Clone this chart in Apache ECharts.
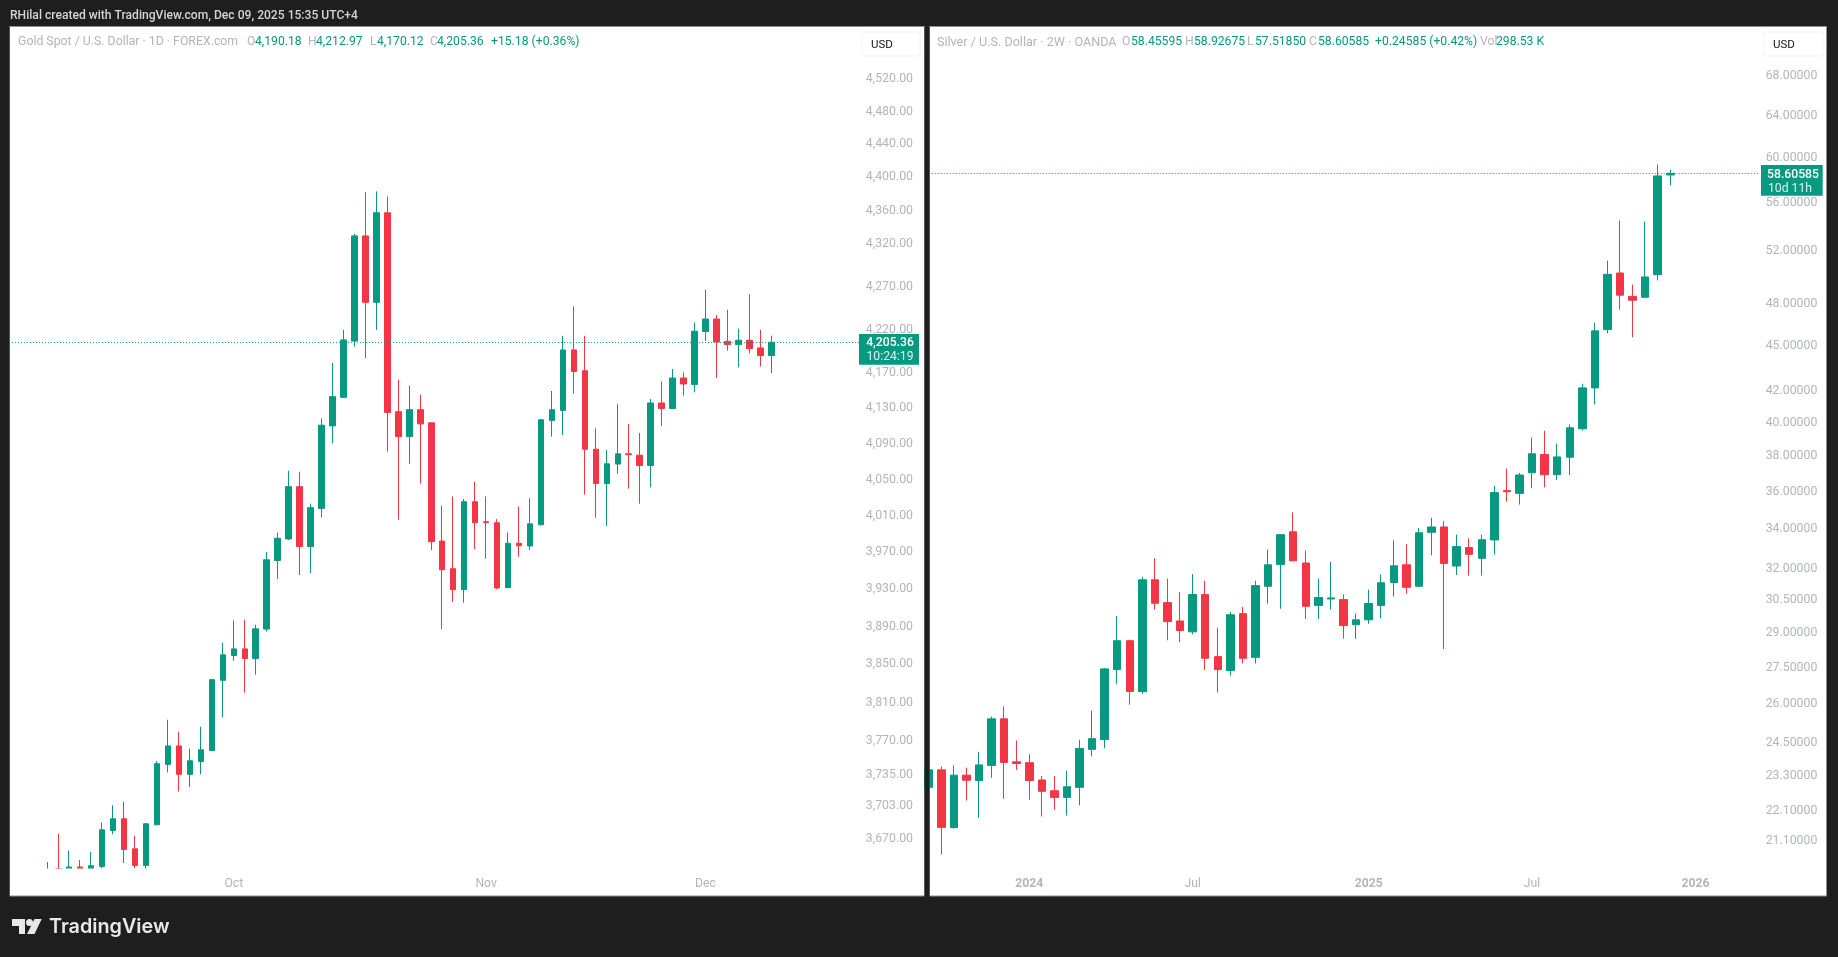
<!DOCTYPE html>
<html>
<head>
<meta charset="utf-8">
<title>Gold and Silver</title>
<style>
  html, body { margin: 0; padding: 0; background: #1e1e1e; }
  #main { width: 1838px; height: 957px; }
</style>
</head>
<body>
<div id="main"></div>
<script src="https://cdn.jsdelivr.net/npm/echarts@6/dist/echarts.min.js"></script>
<script>
// gold, daily bars (the first few run off the bottom of the pane)
var goldOpen = [3636,3640.5,3640,3642,3640,3642.6,3678.6,3690.5,3660.2,3643.6,3684.4,3745.9,3764.9,3735.7,3748.9,3760.1,3833.2,3859.4,3866.4,3856.2,3887.4,3961.2,3984.7,4042.2,3976.3,4018.2,4110.1,4142.4,4206.8,4329.8,4251.7,4357.4,4126.1,4098,4128.4,4113.6,3982.4,3952.3,3929.7,4025.6,4003.6,4002.4,3931.8,3979.9,3977,4000.2,4116.2,4127.6,4196.6,4172.7,4083.9,4045.8,4067.3,4078.8,4077.2,4065.7,4136,4129.8,4164.4,4157.1,4217.8,4232.3,4206.5,4202.7,4207.7,4198.9,4190.18];
var goldHigh = [3647,3675.3,3658.5,3649,3657,3686.5,3704.1,3707.9,3673.2,3686,3749.3,3792,3779.5,3762.2,3784.7,3834.7,3873,3896.6,3897.4,3892,3970.6,3991.6,4059.9,4058.8,4023.4,4118.5,4181.5,4219.8,4332.2,4382.2,4383,4376.9,4162.5,4155.7,4145.4,4114,4021.2,4031.4,4028.6,4047.7,4031.4,4006.4,3991.6,4020.4,4029.3,4117.8,4149.6,4212.8,4247,4212.8,4107.3,4083.1,4134.7,4112.4,4102,4140.5,4160.6,4174.7,4170.8,4228.3,4266.5,4236.9,4243,4221.2,4261,4219.8,4212.97];
var goldLow = [3635,3635,3636,3636,3636,3641,3674.9,3646,3640.6,3640,3684,3737.7,3718.1,3722.8,3735.7,3759.8,3794.5,3853.8,3820.3,3839.2,3884.8,3941.2,3983.6,3945.5,3947.6,4008.3,4090.5,4142,4200.4,4187.2,4219.8,4081.2,4005.7,4067.6,4045.6,3972.3,3887.4,3916.4,3915.7,3973.5,3963.1,3930,3931.5,3965.2,3972.7,3999.5,4098,4099.9,4146.6,4033.4,4007.9,3999,4056.5,4040,4023.4,4041.4,4110.1,4129.4,4144.3,4148,4206.8,4164.4,4195.8,4176.5,4192.9,4177.6,4170.12];
var goldClose = [3638,3636,3642,3640,3643.3,3679.3,3690.5,3659.5,3643.6,3685.4,3746.6,3764.9,3735.7,3749.6,3760.9,3833.9,3860.1,3866.4,3856.2,3887.7,3962,3985.4,4042.2,3976.3,4019,4110.9,4143.2,4208.1,4329.8,4251.7,4357.4,4125.3,4098,4128.4,4112.4,3981.7,3951.2,3929.7,4025.6,4002.4,4002.6,3931.5,3979.9,3977.3,4001.2,4117,4128.4,4196.6,4171.9,4083.9,4045.8,4067.6,4078.7,4077.8,4065.7,4136,4129.8,4164.4,4157.6,4218.2,4232.3,4205.7,4202.7,4207.7,4198.1,4190.2,4205.36];

// silver, two-week bars
var silverOpen = [22.90,23.52,21.53,23.33,23.14,23.68,25.43,23.81,23.78,23.16,22.78,22.55,22.90,24.27,24.64,27.42,28.66,26.51,31.46,30.38,29.54,29.05,30.76,27.97,27.38,29.87,27.94,31.15,32.21,33.86,32.28,30.25,30.55,30.52,29.37,29.59,30.25,31.33,32.19,31.15,33.83,34.11,32.13,33.05,32.51,33.44,36.06,35.91,37.06,38.11,36.95,37.95,39.64,42.20,46.14,50.31,48.54,48.48,50.18,58.45595];
var silverHigh = [23.59,23.64,23.68,23.60,24.18,25.52,25.92,24.60,24.09,23.30,23.30,23.49,24.63,25.75,27.48,29.77,28.70,31.61,32.51,31.51,30.88,31.74,31.41,29.23,29.95,30.18,31.41,32.95,33.74,34.88,32.90,31.52,32.34,30.76,29.88,30.99,31.71,33.42,33.22,34.05,34.59,34.42,33.71,33.52,33.71,36.33,37.30,37.05,39.12,39.52,38.75,39.91,42.47,46.62,51.27,54.51,49.42,54.43,59.41,58.92675];
var silverLow = [22.82,20.66,21.50,22.44,21.86,23.24,22.50,23.52,22.47,21.90,22.13,21.93,22.28,24.01,24.31,26.83,25.99,26.42,30.06,28.68,28.59,28.94,27.41,26.48,27.17,27.68,27.68,30.33,30.10,32.36,29.63,29.63,30.06,28.75,28.74,29.41,29.66,30.66,30.80,31.13,32.66,28.30,31.69,31.66,31.66,32.70,35.46,35.30,36.19,36.24,36.66,36.93,39.54,41.14,45.87,47.57,45.60,48.46,49.74,57.5185];
var silverClose = [23.52,21.54,23.33,23.15,23.70,25.43,23.79,23.75,23.14,22.76,22.55,22.92,24.30,24.67,27.45,28.66,26.52,31.46,30.35,29.51,29.11,30.76,27.90,27.42,29.82,27.90,31.18,32.19,33.71,32.39,30.21,30.62,30.60,29.33,29.59,30.34,31.32,32.14,31.10,33.81,34.11,32.26,33.10,32.71,33.45,35.95,36.00,36.93,38.15,36.95,37.97,39.70,42.20,46.05,50.21,48.63,48.26,50.01,58.37,58.60585];

// price axis tick labels
var goldTicks = [4520,4480,4440,4400,4360,4320,4270,4220,4170,4130,4090,4050,4010,3970,3930,3890,3850,3810,3770,3735,3703,3670];
var silverTicks = [68,64,60,56,52,48,45,42,40,38,36,34,32,30.5,29,27.5,26,24.5,23.3,22.1,21.1];

// time axis tick labels, by bar position on the axis
var goldTimeLabels = {20:'Oct', 43:'Nov', 63:'Dec'};
var silverTimeLabels = {8:'{b|2024}', 21:'Jul', 35:'{b|2025}', 48:'Jul', 61:'{b|2026}'};

var goldLast = 4205.36;
var silverLast = 58.60585;

var UP = '#089981', DOWN = '#f23645', GREY = '#b2b5be', DARK = '#1e1e1e';
var FONT = 'Roboto, sans-serif';

// ohlc -> echarts order [open, close, low, high]
function ohlc(o, h, l, c, lead) {
  var res = [];
  for (var i = 0; i < lead; i++) res.push(['-', '-', '-', '-']);
  for (var j = 0; j < o.length; j++) res.push([o[j], c[j], l[j], h[j]]);
  return res;
}
function range(n) {
  var r = [];
  for (var i = 0; i < n; i++) r.push(String(i));
  return r;
}
function goldFmt(v) {
  return v.toLocaleString('en-US', {minimumFractionDigits: 2, maximumFractionDigits: 2});
}
function silverFmt(v) { return v.toFixed(5); }

function xAxis(gridIndex, n, labels, gap) {
  return {
    type: 'category', gridIndex: gridIndex, data: range(n), boundaryGap: gap,
    axisLine: {show: false}, axisTick: {show: false}, splitLine: {show: false},
    axisLabel: {
      margin: 10, hideOverlap: false, color: GREY, fontSize: 12.2, fontFamily: FONT,
      interval: function (i) { return labels[i] !== undefined; },
      formatter: function (v, i) { return labels[i] || ''; },
      rich: {b: {color: GREY, fontSize: 12.2, fontWeight: 'bold', fontFamily: FONT}}
    }
  };
}
function yAxis(gridIndex, min, max, ticks, fmt, margin, padding) {
  return {
    type: 'log', logBase: 10, gridIndex: gridIndex, position: 'right', min: min, max: max,
    axisLine: {show: false}, axisTick: {show: false}, splitLine: {show: false}, minorTick: {show: false},
    axisLabel: {
      customValues: ticks, margin: margin, align: 'right', showMinLabel: true, showMaxLabel: true,
      color: GREY, fontSize: 12.3, fontFamily: FONT, padding: padding,
      formatter: function (v) { return fmt(v); }
    }
  };
}
function candles(name, xi, data, barWidth, last) {
  return {
    name: name, type: 'candlestick', xAxisIndex: xi, yAxisIndex: xi, data: data, barWidth: barWidth,
    itemStyle: {color: UP, color0: DOWN, borderColor: UP, borderColor0: DOWN, borderWidth: 1},
    markLine: {
      silent: true, symbol: 'none', animation: false, label: {show: false},
      lineStyle: {color: UP, type: [1, 2], width: 1},
      data: [{yAxis: last}]
    }
  };
}

// header strip pieces: [text, x, colour, size]
var goldHeader = [
  ['Gold Spot / U.S. Dollar · 1D · FOREX.com', 18, GREY, 12.3], ['O', 247, GREY, 12.2], ['4,190.18', 255, UP, 12.2],
  ['H', 308, GREY, 12.2], ['4,212.97', 316, UP, 12.2], ['L', 370, GREY, 12.2], ['4,170.12', 377, UP, 12.2],
  ['C', 430, GREY, 12.2], ['4,205.36', 437, UP, 12.2], ['+15.18 (+0.36%)', 491, UP, 12.2]
];
var silverHeader = [
  ['Silver / U.S. Dollar · 2W · OANDA', 937, GREY, 12.6], ['O', 1122, GREY, 12.2], ['58.45595', 1131, UP, 12.2],
  ['H', 1185, GREY, 12.2], ['58.92675', 1194, UP, 12.2], ['L', 1247, GREY, 12.2], ['57.51850', 1255, UP, 12.2],
  ['C', 1309, GREY, 12.2], ['58.60585', 1318, UP, 12.2], ['+0.24585 (+0.42%)', 1375, UP, 12.2],
  ['Vol', 1480, GREY, 12.2], ['298.53 K', 1496, UP, 12.2]
];

function txt(t, x, y, color, opt) {
  opt = opt || {};
  return {
    type: 'text', x: x, y: y, z: opt.z || 50, silent: true,
    style: {
      text: t, fill: color, font: (opt.weight || 'normal') + ' ' + (opt.size || 12) + 'px ' + (opt.family || FONT),
      textAlign: opt.align || 'left', textVerticalAlign: 'middle'
    }
  };
}
function box(x, y, w, h, fill, stroke, z, r) {
  return {
    type: 'rect', z: z, silent: true,
    shape: {x: x, y: y, width: w, height: h, r: r || 0},
    style: {fill: fill, stroke: stroke || null, lineWidth: stroke ? 1 : 0}
  };
}

var graphics = [
  // panes
  box(9.5, 26.5, 915, 869.5, '#ffffff', '#8f8f8f', -10),
  box(929.5, 26.5, 897, 869.5, '#ffffff', '#8f8f8f', -10),
  // trims over the marks at the pane edges
  box(0, 27, 9.5, 869, DARK, null, 40),
  box(924.5, 27, 5, 869, DARK, null, 40),
  box(10, 868.5, 914, 7.5, '#ffffff', null, 40),
  // usd buttons
  box(862, 32, 58, 24, '#ffffff', '#f0f3fa', 45, 2),
  box(1764, 32, 60, 24, '#ffffff', '#f0f3fa', 45, 2),
  txt('USD', 871, 45, '#131722', {size: 11.5}),
  txt('USD', 1773, 45, '#131722', {size: 11.5}),
  // last price tags
  box(859, 334, 60, 30.7, UP, null, 45),
  box(1761, 165, 61.7, 30.7, UP, null, 45),
  txt('4,205.36', 890, 342.5, '#ffffff', {align: 'center', weight: 500, size: 12.2}),
  txt('10:24:19', 890, 357, '#d8f2ec', {align: 'center', size: 12.2}),
  txt('58.60585', 1793, 174.5, '#ffffff', {align: 'center', weight: 500, size: 12.2}),
  txt('10d 11h', 1790, 189, '#d8f2ec', {align: 'center', size: 12.2}),
  // top strip
  txt('RHilal created with TradingView.com, Dec 09, 2025 15:35 UTC+4', 10, 15.7, '#d1d4dc', {weight: 500, size: 12.1}),
  // logo
  {type: 'polygon', z: 50, silent: true, shape: {points: [[12,919],[25,919],[25,934],[19,934],[19,926],[12,926]]}, style: {fill: '#e8e8e8'}},
  {type: 'circle', z: 50, silent: true, shape: {cx: 29.5, cy: 922.5, r: 3.5}, style: {fill: '#e8e8e8'}},
  {type: 'polygon', z: 50, silent: true, shape: {points: [[34.5,919],[41.7,919],[34.5,934],[27,934]]}, style: {fill: '#e8e8e8'}},
  txt('TradingView', 49, 927, '#e8e8e8', {size: 19.8, weight: 600, family: 'Inter, sans-serif'})
];
goldHeader.concat(silverHeader).forEach(function (h) {
  graphics.push(txt(h[0], h[1], 42.4, h[2], {size: h[3]}));
});

var chart = echarts.init(document.getElementById('main'));
chart.setOption({
  animation: false,
  backgroundColor: DARK,
  textStyle: {fontFamily: FONT},
  grid: [
    {left: 8.9, top: 27, width: 855.7, height: 841},
    {left: 928.7, top: 27, width: 829.6, height: 841}
  ],
  xAxis: [
    xAxis(0, 78, goldTimeLabels, true),
    xAxis(1, 67, silverTimeLabels, false)
  ],
  yAxis: [
    yAxis(0, 3641, 4585, goldTicks, goldFmt, 48.4, [0, 0, 1, 0]),
    yAxis(1, 20.24, 73.31, silverTicks, silverFmt, 59, [4, 0, 0, 0])
  ],
  graphic: graphics,
  series: [
    candles('Gold', 0, ohlc(goldOpen, goldHigh, goldLow, goldClose, 3), 6, goldLast),
    candles('Silver', 1, ohlc(silverOpen, silverHigh, silverLow, silverClose, 0), 8, silverLast)
  ]
});
window.addEventListener('resize', function () { chart.resize(); });
</script>
</body>
</html>
